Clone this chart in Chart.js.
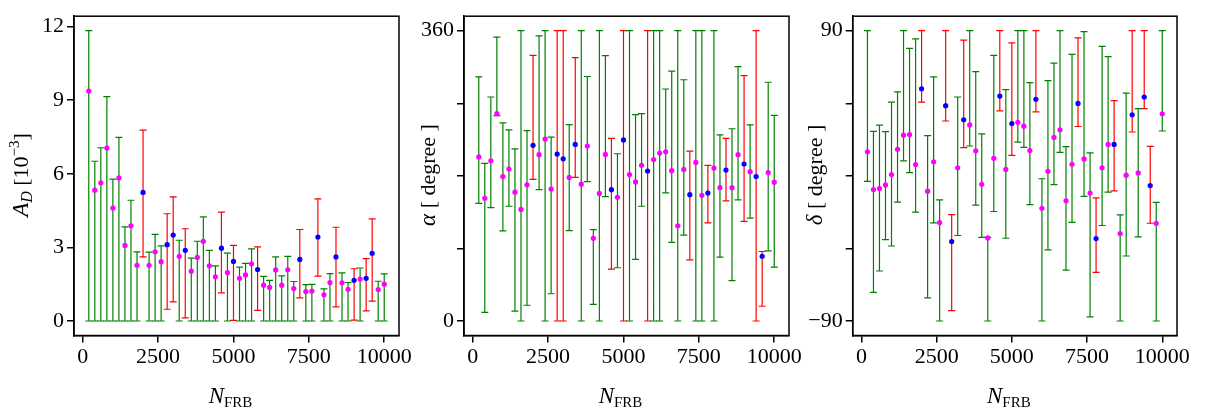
<!DOCTYPE html>
<html>
<head>
<meta charset="utf-8">
<script src="https://cdn.jsdelivr.net/npm/chart.js@4/dist/chart.umd.min.js"></script>
<style>
  body { margin: 0; background: #fff; width: 1207px; height: 414px; overflow: hidden; position: relative; }
  canvas { position: absolute; top: 0; }
</style>
</head>
<body>
<canvas id="panelAD" width="429" height="414" style="left:0px"></canvas>
<canvas id="panelAlpha" width="419" height="414" style="left:400px"></canvas>
<canvas id="panelDelta" width="419" height="414" style="left:788px"></canvas>
<script>
// number of FRBs (x values, same for all three panels)
const nFrb = [200, 400, 600, 800, 1000, 1200, 1400, 1600, 1800, 2000,
  2200, 2400, 2600, 2800, 3000, 3200, 3400, 3600, 3800, 4000,
  4200, 4400, 4600, 4800, 5000, 5200, 5400, 5600, 5800, 6000,
  6200, 6400, 6600, 6800, 7000, 7200, 7400, 7600, 7800, 8000,
  8200, 8400, 8600, 8800, 9000, 9200, 9400, 9600, 9800, 10000];

// runs drawn with blue points / red error bars
const flagged = [2000, 2800, 3000, 3400, 4600, 5000, 5800, 7200, 7800, 8400, 9000, 9400, 9600];

// dipole amplitude A_D [1e-3]
const adVal = [9.37, 5.33, 5.63, 7.05, 4.60, 5.83, 3.08, 3.88, 2.27, 5.24,
  2.27, 2.82, 2.42, 3.11, 3.50, 2.64, 2.88, 2.03, 2.59, 3.25,
  2.25, 1.80, 2.97, 1.97, 2.43, 1.74, 1.88, 2.33, 2.10, 1.46,
  1.37, 2.08, 1.46, 2.09, 1.32, 2.51, 1.20, 1.22, 3.42, 1.07,
  1.57, 2.61, 1.56, 1.29, 1.66, 1.71, 1.74, 2.76, 1.28, 1.50];
const adHi = [11.83, 6.51, 7.06, 9.14, 5.78, 7.48, 3.84, 4.92, 2.82, 7.78,
  2.81, 3.53, 3.06, 4.37, 5.06, 3.29, 3.76, 2.56, 3.25, 4.24,
  2.88, 2.25, 4.44, 2.77, 3.08, 2.20, 2.35, 2.94, 3.02, 1.82,
  1.66, 2.61, 1.84, 2.63, 1.61, 3.73, 1.48, 1.49, 4.98, 1.31,
  1.93, 3.82, 1.96, 1.57, 2.13, 2.16, 2.54, 4.16, 1.62, 1.92];
const adLo = [0, 0, 0, 0, 0, 0, 0, 0, 0, 2.61,
  0, 0, 0, 0.48, 0.78, 0, 0.13, 0, 0, 0,
  0, 0, 1.15, 0, 0.03, 0, 0, 0, 0.43, 0,
  0, 0, 0, 0, 0, 0.94, 0, 0, 1.83, 0,
  0, 0.58, 0, 0, 0.04, 0, 0.41, 0.81, 0, 0];

// right ascension alpha [degree]
const alphaVal = [203.5, 152.2, 198.7, 257.1, 179.2, 188.4, 159.8, 138.3, 168.9, 217.8,
  206.3, 225.7, 163.7, 207.0, 201.1, 178.0, 219.0, 169.7, 217.0, 102.5,
  158.2, 206.6, 162.9, 153.4, 224.5, 181.6, 172.5, 193.1, 186.0, 200.3,
  208.2, 209.8, 186.4, 118.0, 188.0, 156.6, 196.7, 155.8, 158.6, 189.6,
  165.3, 187.2, 165.3, 206.3, 194.7, 185.2, 179.2, 80.3, 184.0, 172.1];
const alphaHi = [302.8, 195.5, 277.8, 352.1, 245.6, 236.9, 213.4, 360, 236.1, 329.4,
  353.7, 360, 228.1, 360, 360, 243.6, 326.7, 360, 303.2, 113.3,
  360, 329.0, 226.5, 207.4, 360, 360, 255.9, 257.1, 360, 360,
  360, 287.7, 310.0, 360, 299.2, 210.6, 360, 360, 193.1, 360,
  230.9, 226.5, 238.4, 315.5, 304.4, 243.2, 360, 86.2, 296.1, 255.1];
const alphaLo = [145.8, 10.7, 140.7, 254.7, 111.7, 142.3, 12.3, 0, 19.5, 175.6,
  162.9, 0, 33.8, 0, 0, 112.1, 178.0, 0, 172.9, 20.7,
  0, 154.2, 64.4, 66.0, 0, 0, 76.3, 142.3, 0, 0,
  0, 159.0, 97.4, 0, 106.5, 75.9, 0, 0, 121.6, 0,
  79.1, 149.0, 50.1, 150.2, 123.6, 127.6, 0, 18.3, 87.0, 66.8];

// declination delta [degree]
const deltaVal = [14.9, -8.5, -7.9, -5.6, 0.8, 16.5, 25.2, 25.6, 7.0, 54.0,
  -9.5, 8.7, -29.0, 43.5, -40.7, 5.0, 34.8, 31.6, 15.5, -5.2,
  -38.5, 10.9, 49.5, 4.0, 32.4, 33.2, 30.8, 15.7, 47.5, -20.1,
  2.8, 23.8, 28.6, -15.5, 7.2, 44.9, 10.5, -10.7, -38.9, 5.0,
  19.5, 19.5, -35.8, 0.4, 37.9, 1.8, 48.9, -6.0, -29.4, 38.5];
const deltaHi = [90, 27.6, 31.4, 27.4, 45.7, 52.1, 90, 79.1, 85.0, 90,
  25.0, 61.4, -14.9, 90, -24.0, 48.9, 84.2, 90, 64.6, 26.0,
  -38.1, 74.7, 90, 53.5, 82.4, 90, 90, 57.8, 90, -1.8,
  59.0, 69.9, 90, 18.1, 75.3, 85.6, 89.4, 14.3, -13.7, 80.3,
  73.9, 46.7, -24.2, 51.3, 90, 41.7, 90, 18.3, -16.5, 90];
const deltaLo = [-3.4, -72.3, -59.0, -39.5, -43.5, -16.3, 9.3, 2.0, -22.5, 45.7,
  -75.7, -29.2, -90, 34.0, -83.6, -37.0, 17.5, 18.5, -18.1, -38.1,
  -90, -22.1, 40.3, -38.7, 12.7, 20.9, 17.7, -17.9, 39.7, -90,
  -45.9, -5.4, 14.5, -58.4, -28.8, 30.6, -12.7, -87.4, -59.8, -30.8,
  -10.1, -9.3, -90, -49.7, 27.2, -37.9, 41.7, -29.4, -90, 27.8];

// axis ticks
const xTicks = [0, 2500, 5000, 7500, 10000];
const adTicks = [0, 3, 6, 9, 12];
const alphaTicks = [0, 90, 180, 270, 360];
const alphaLabels = [0, 360];
const deltaTicks = [-90, -45, 0, 45, 90];
const deltaLabels = [-90, 90];

const SERIF = "'Liberation Serif', 'DejaVu Serif', serif";

// Helper: draw a title made of pieces (italic / sub / superscript)
function drawRich(ctx, parts, x, y, rotated) {
  const fontOf = p => (p.i ? "italic " : "") + p.s + "px " + SERIF;
  ctx.save();
  ctx.translate(x, y);
  if (rotated) ctx.rotate(-Math.PI / 2);
  let total = 0;
  parts.forEach(p => { ctx.font = fontOf(p); total += ctx.measureText(p.t).width; });
  let cx = -total / 2;
  ctx.fillStyle = "#000";
  ctx.textBaseline = "alphabetic";
  ctx.textAlign = "left";
  parts.forEach(p => {
    ctx.font = fontOf(p);
    ctx.fillText(p.t, cx, p.dy || 0);
    cx += ctx.measureText(p.t).width;
  });
  ctx.restore();
}

// Helper: error bar segments separated by gaps
function barData(lo, hi, red) {
  const out = [];
  nFrb.forEach((n, i) => {
    if (flagged.includes(n) !== red) return;
    out.push({ x: n, y: lo[i] }, { x: n, y: hi[i] }, { x: n, y: null });
  });
  return out;
}

function pointData(val, blue) {
  const out = [];
  nFrb.forEach((n, i) => {
    if (flagged.includes(n) === blue) out.push({ x: n, y: val[i] });
  });
  return out;
}

function makePanel(id, opt) {
  const errStyle = color => ({
    type: "line", showLine: true, spanGaps: false,
    borderColor: color, borderWidth: 1.2,
    pointStyle: "line", pointRadius: 3.5, pointBorderColor: color,
    pointBorderWidth: 1.2, order: 2
  });
  const frameAndTitles = {
    id: "frame_" + id,
    afterDraw(chart) {
      const a = chart.chartArea, ctx = chart.ctx;
      ctx.save();
      ctx.strokeStyle = "#000";
      ctx.lineWidth = 1.5;
      ctx.strokeRect(a.left, a.top, a.right - a.left, a.bottom - a.top);
      ctx.restore();
      drawRich(ctx, [{ t: "N", i: true, s: 23 }, { t: "FRB", s: 15, dy: 4 }],
        (a.left + a.right) / 2 - 6, 403, false);
      drawRich(ctx, opt.yTitle, opt.yTitleX, 175, true);
    }
  };
  return new Chart(document.getElementById(id), {
    type: "scatter",
    data: {
      datasets: [
        { data: pointData(opt.val, false), backgroundColor: "#ff00ff", pointRadius: 2.6, borderWidth: 0, order: 0 },
        { data: pointData(opt.val, true), backgroundColor: "#0000ff", pointRadius: 2.6, borderWidth: 0, order: 0 },
        Object.assign({ data: barData(opt.lo, opt.hi, false) }, errStyle("#008000")),
        Object.assign({ data: barData(opt.lo, opt.hi, true) }, errStyle("#ff0000"))
      ]
    },
    options: {
      responsive: false,
      animation: false,
      events: [],
      layout: { padding: { top: 5, right: 30, left: 0, bottom: 0 } },
      plugins: { legend: { display: false }, tooltip: { enabled: false } },
      scales: {
        x: {
          type: "linear", min: -290, max: 10490,
          afterBuildTicks: s => { s.ticks = xTicks.map(v => ({ value: v })); },
          afterFit: s => { s.height = 78.5; },
          ticks: {
            font: { family: SERIF, size: 22 }, color: "#000", padding: 2, maxRotation: 0, autoSkip: false,
            callback: v => String(v)
          },
          grid: { drawOnChartArea: false, tickLength: 7, color: "#000", lineWidth: 1.5 },
          border: { color: "#000", width: 1.5 }
        },
        y: {
          min: opt.min, max: opt.max,
          afterBuildTicks: s => { s.ticks = opt.ticks.map(v => ({ value: v })); },
          afterFit: s => { s.width = opt.yWidth; },
          ticks: {
            font: { family: SERIF, size: 22 }, color: "#000", padding: 3, autoSkip: false,
            callback: v => opt.labels.includes(v) ? String(v).replace("-", "\u2212") : ""
          },
          grid: { drawOnChartArea: false, tickLength: 7, color: "#000", lineWidth: 1.5 },
          border: { color: "#000", width: 1.5 }
        }
      }
    },
    plugins: [frameAndTitles]
  });
}

makePanel("panelAD", {
  val: adVal, lo: adLo, hi: adHi, min: -0.59, max: 12.42,
  ticks: adTicks, labels: adTicks, yWidth: 74, yTitleX: 28,
  yTitle: [{ t: "A", i: true, s: 23 }, { t: "D", i: true, s: 16, dy: 4 }, { t: " [10", s: 22 },
    { t: "\u22123", s: 15, dy: -9 }, { t: "]", s: 22 }]
});
makePanel("panelAlpha", {
  val: alphaVal, lo: alphaLo, hi: alphaHi, min: -18, max: 378,
  ticks: alphaTicks, labels: alphaLabels, yWidth: 64, yTitleX: 35,
  yTitle: [{ t: "\u03b1", i: true, s: 23 }, { t: " [ degree ]", s: 22 }]
});
makePanel("panelDelta", {
  val: deltaVal, lo: deltaLo, hi: deltaHi, min: -99, max: 99,
  ticks: deltaTicks, labels: deltaLabels, yWidth: 64.7, yTitleX: 34,
  yTitle: [{ t: "\u03b4", i: true, s: 23 }, { t: " [ degree ]", s: 22 }]
});
</script>
</body>
</html>
